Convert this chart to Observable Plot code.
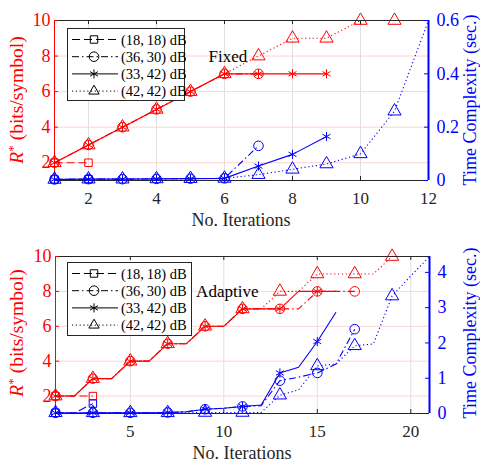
<!DOCTYPE html>
<html><head><meta charset="utf-8">
<script src="https://cdn.jsdelivr.net/npm/d3@7"></script>
<script src="https://cdn.jsdelivr.net/npm/@observablehq/plot@0.6"></script>
<style>
body{margin:0;background:#fff;}
#root{position:relative;width:480px;height:463px;overflow:hidden;font-family:"Liberation Serif","DejaVu Serif",serif;color:#262626;}
.panel{position:absolute;left:0;width:480px;}
.panel > svg{position:absolute;left:0;top:0;}
.panel svg text{font-family:"Liberation Serif","DejaVu Serif",serif;}
.lbl{position:absolute;white-space:nowrap;line-height:1;font-size:18px;transform:translate(-50%,-50%);}
.rot{transform:translate(-50%,-50%) rotate(-90deg);}
.legend{position:absolute;box-sizing:border-box;border:1px solid #262626;background:#fff;}
.legend svg{position:absolute;left:0;top:0;}
</style></head><body><div id="root"></div>
<script>
// ---- series descriptions ----
const seriesNames = ["(18,\u200918) dB", "(36,\u200930) dB", "(33,\u200942) dB", "(42,\u200942) dB"];
const seriesSymbols = ["square", "circle", "asterisk", "triangle"];
const seriesDashes = ["8,4", "7,3,1.5,3", null, "1.2,2.6"];

// ---- Fixed (top), x = 1, 2, ... ----
const fixedRate18 = [2, 2];
const fixedRate36 = [2, 3, 4, 5, 6, 7, 7];
const fixedRate33 = [2, 3, 4, 5, 6, 7, 7, 7, 7];
const fixedRate42 = [2, 3, 4, 5, 6, 7, 8, 9, 9, 10, 10, 10];
const fixedTime18 = [0.004, 0.005];
const fixedTime36 = [0.004, 0.005, 0.005, 0.006, 0.007, 0.008, 0.13];
const fixedTime33 = [0.004, 0.005, 0.005, 0.006, 0.007, 0.008, 0.054, 0.098, 0.165];
const fixedTime42 = [0.004, 0.005, 0.005, 0.006, 0.007, 0.008, 0.022, 0.042, 0.062, 0.1, 0.26, 0.6];
const fixedTicksX = [2, 4, 6, 8, 10, 12];
const fixedTicksTime = [0, 0.2, 0.4, 0.6];

// ---- Adaptive (bottom), x = 1, 2, ... ----
const adaptRate18 = [2, 2, 2];
const adaptRate36 = [2, 2, 3, 3, 4, 4, 5, 5, 6, 6, 7, 7, 7, 7, 8, 8, 8];
const adaptRate33 = [2, 2, 3, 3, 4, 4, 5, 5, 6, 6, 7, 7, 7, 8, 8, 8];
const adaptRate42 = [2, 2, 3, 3, 4, 4, 5, 5, 6, 6, 7, 7, 8, 8, 9, 9, 9, 9, 10, 10, 10];
const adaptTime18 = [0.02, 0.01, 0.28];
const adaptTime36 = [0.02, 0.01, 0.02, 0.02, 0.02, 0.02, 0.03, 0.05, 0.12, 0.15, 0.2, 0.22, 0.93, 1.03, 1.15, 1.4, 2.39];
const adaptTime33 = [0.02, 0.01, 0.02, 0.02, 0.02, 0.02, 0.03, 0.05, 0.12, 0.15, 0.2, 0.24, 1.15, 1.31, 2.04, 2.87];
const adaptTime42 = [0.02, 0.01, 0.02, 0.02, 0.02, 0.02, 0.02, 0.02, 0.03, 0.03, 0.03, 0.03, 0.52, 0.67, 1.35, 1.4, 1.92, 1.97, 3.33, 3.9, 4.45];
const adaptTicksX = [5, 10, 15, 20];
const adaptTicksTime = [0, 1, 2, 3, 4];

const rateTicks = [2, 4, 6, 8, 10];
const noteFixed = [{x: 5.53, y: 8, text: "Fixed"}];
const noteAdapt = [{x: 8.52, y: 8, text: "Adaptive"}];

// ---- styling ----
const RED = "#ff0000", BLUE = "#0000ff", DARK = "#262626";
const SERIF = "'Liberation Serif','DejaVu Serif',serif";
const symbolR = {square: 4.2, circle: 4.8, asterisk: 4.3, triangle: 4.9};
const d3Sym = {square: d3.symbolSquare, circle: d3.symbolCircle, asterisk: d3.symbolAsterisk, triangle: d3.symbolTriangle2};

const root = document.getElementById("root");

function panel(cfg) {
  const {top, height, mt, mb, ml, mr, xMax, xTicks, tMax, tTicks, rates, times, markAt, note, legendBox, ylabY} = cfg;
  const div = document.createElement("div");
  div.className = "panel";
  div.style.top = top + "px";
  div.style.height = height + "px";
  root.appendChild(div);

  const pw = 480 - ml - mr, ph = height - mt - mb;
  const kx = (xMax - 1) / pw;
  const toRows = arrs => arrs.flatMap((a, s) => a.map((v, i) => ({s, x: i + 1, v})));
  const rateRows = toRows(rates), timeRows = toRows(times);
  const common = {width: 480, height, marginTop: mt, marginBottom: mb, marginLeft: ml, marginRight: mr};
  const font = "font-family:" + SERIF + ";font-size:18px;";

  const lineMarks = (data, color) => seriesNames.map((_, s) =>
    Plot.line(data.filter(d => d.s === s), {x: "x", y: "v", stroke: color, strokeWidth: 1.1,
      strokeLinecap: "butt", strokeLinejoin: "miter",
      strokeDasharray: seriesDashes[s] || undefined}));
  const dotMarks = (data, color) => seriesNames.map((_, s) =>
    Plot.dot(data.filter(d => d.s === s && markAt(d.x)), {x: "x", y: "v", symbol: seriesSymbols[s],
      r: symbolR[seriesSymbols[s]], stroke: color, fill: "none", strokeWidth: 1}));

  const kyA = 9 / ph;
  const A = Plot.plot({
    ...common,
    style: font + "background:white;color:" + DARK + ";",
    x: {domain: [1, xMax]},
    y: {domain: [1, 10]},
    marks: [
      Plot.ruleX(xTicks, {stroke: "#e0e0e0"}),
      Plot.ruleY(rateTicks, {stroke: "#ffd3d3"}),
      ...lineMarks(rateRows, RED),
      ...dotMarks(rateRows, RED),
      Plot.ruleY([1, 10], {stroke: DARK}),
      Plot.ruleX(xTicks, {y1: 1, y2: 1 + 4 * kyA, stroke: DARK}),
      Plot.ruleX(xTicks, {y1: 10 - 4 * kyA, y2: 10, stroke: DARK}),
      Plot.ruleY(rateTicks, {x1: 1, x2: 1 + 4 * kx, stroke: RED}),
      Plot.ruleX([1], {stroke: RED}),
      Plot.axisX({ticks: xTicks, tickSize: 0, tickPadding: 11, fontSize: 17, fill: DARK, label: null, tickFormat: d => String(d)}),
      Plot.axisY({ticks: rateTicks, tickSize: 0, tickPadding: 4, fill: RED, label: null, tickFormat: d => String(d)}),
      Plot.text(note, {x: "x", y: "y", text: "text", textAnchor: "start", fontSize: 17, fill: "#000"})
    ]
  });
  div.appendChild(A);

  const B = Plot.plot({
    ...common,
    style: font + "background:transparent;",
    x: {domain: [1, xMax], axis: null},
    y: {domain: [0, tMax]},
    marks: [
      ...lineMarks(timeRows, BLUE),
      ...dotMarks(timeRows, BLUE),
      Plot.ruleY(tTicks, {x1: xMax - 4 * kx, x2: xMax, stroke: BLUE}),
      Plot.ruleX([xMax], {stroke: BLUE, strokeWidth: 2}),
      Plot.axisY({anchor: "right", ticks: tTicks, tickSize: 0, tickPadding: 8, fill: BLUE, label: null, tickFormat: d => String(d)})
    ]
  });
  div.appendChild(B);

  // legend
  const lg = document.createElement("div");
  lg.className = "legend";
  Object.assign(lg.style, {left: legendBox.x + "px", top: legendBox.y + "px", width: legendBox.w + "px", height: legendBox.h + "px"});
  const svg = d3.create("svg").attr("width", legendBox.w).attr("height", legendBox.h);
  seriesNames.forEach((name, i) => {
    const y = 10.5 + i * 17.2;
    svg.append("line").attr("x1", 4).attr("x2", 50).attr("y1", y).attr("y2", y)
      .attr("stroke", "#000").attr("stroke-width", 1).attr("stroke-dasharray", seriesDashes[i]);
    const sz = Math.PI * symbolR[seriesSymbols[i]] ** 2;
    svg.append("path").attr("d", d3.symbol(d3Sym[seriesSymbols[i]], sz)()).attr("transform", `translate(26,${y})`)
      .attr("fill", "none").attr("stroke", "#000");
    svg.append("text").attr("x", 53).attr("y", y).attr("dy", "0.35em")
      .attr("font-family", SERIF).attr("font-size", 14.5).attr("fill", "#000").text(name);
  });
  lg.appendChild(svg.node());
  div.appendChild(lg);

  // axis titles
  const xl = document.createElement("div");
  xl.className = "lbl"; xl.textContent = "No. Iterations";
  Object.assign(xl.style, {left: (ml + pw / 2) + "px", top: (height - mb + 40) + "px"});
  div.appendChild(xl);

  const yl = document.createElement("div");
  yl.className = "lbl rot"; yl.style.color = RED; yl.style.fontSize = "19.5px";
  yl.innerHTML = "<i>R</i><sup style=\"font-size:13px;vertical-align:6px\">*</sup> (bits/symbol)";
  Object.assign(yl.style, {left: "16px", top: ylabY + "px"});
  div.appendChild(yl);

  const yr = document.createElement("div");
  yr.className = "lbl rot"; yr.style.color = BLUE;
  yr.textContent = "Time Complexity (sec.)";
  Object.assign(yr.style, {left: "470px", top: ylabY + "px"});
  div.appendChild(yr);
}

panel({
  top: 0, height: 231, mt: 20, mb: 51, ml: 54, mr: 52,
  xMax: 12, xTicks: fixedTicksX, tMax: 0.6, tTicks: fixedTicksTime,
  rates: [fixedRate18, fixedRate36, fixedRate33, fixedRate42],
  times: [fixedTime18, fixedTime36, fixedTime33, fixedTime42],
  markAt: x => x < 12, note: noteFixed,
  legendBox: {x: 67, y: 28, w: 118, h: 73}, ylabY: 100
});
panel({
  top: 231, height: 232, mt: 25, mb: 50, ml: 55, mr: 51,
  xMax: 21, xTicks: adaptTicksX, tMax: 4.45, tTicks: adaptTicksTime,
  rates: [adaptRate18, adaptRate36, adaptRate33, adaptRate42],
  times: [adaptTime18, adaptTime36, adaptTime33, adaptTime42],
  markAt: x => x % 2 === 1 && x < 21, note: noteAdapt,
  legendBox: {x: 67, y: 31, w: 125, h: 74}, ylabY: 102
});
</script></body></html>
